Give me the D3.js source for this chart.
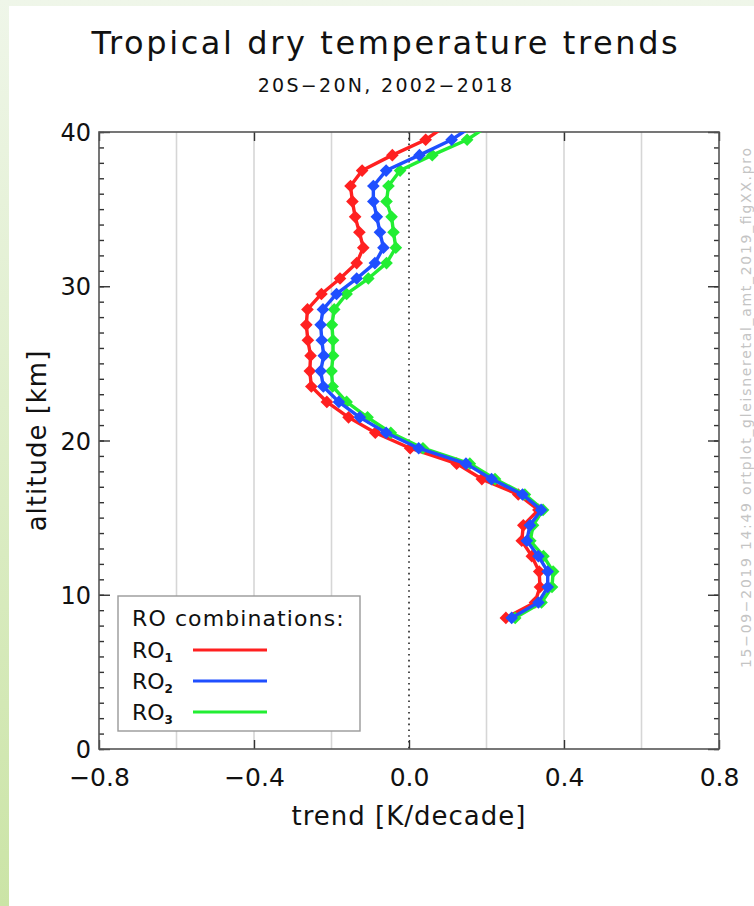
<!DOCTYPE html>
<html>
<head>
<meta charset="utf-8">
<script src="https://cdn.jsdelivr.net/npm/d3@7"></script>
<style>
  html, body { margin: 0; padding: 0; }
  body { width: 754px; height: 906px; overflow: hidden; }
  text { font-family: "DejaVu Sans", "Liberation Sans", sans-serif; fill: #111; }
</style>
</head>
<body>
<div id="chart"></div>
<script>
// altitude levels [km], one marker per level
const altitudes = d3.range(8.5, 41, 1)

// trends [K/decade], bottom (8.5 km) to top (40.5 km)
const ro1 = [0.250, 0.325, 0.338, 0.336, 0.317, 0.291, 0.295, 0.334, 0.282, 0.188, 0.123, 0.003,
  -0.087, -0.156, -0.212, -0.252, -0.256, -0.254, -0.261, -0.265, -0.262, -0.226, -0.178, -0.135,
  -0.118, -0.128, -0.139, -0.146, -0.151, -0.121, -0.043, 0.043, 0.100]
const ro2 = [0.265, 0.334, 0.358, 0.358, 0.334, 0.304, 0.312, 0.341, 0.293, 0.213, 0.147, 0.025,
  -0.059, -0.127, -0.181, -0.221, -0.228, -0.220, -0.225, -0.228, -0.222, -0.187, -0.135, -0.088,
  -0.066, -0.075, -0.083, -0.092, -0.092, -0.059, 0.027, 0.110, 0.170]
const ro3 = [0.274, 0.342, 0.369, 0.372, 0.347, 0.313, 0.320, 0.346, 0.299, 0.222, 0.157, 0.036,
  -0.047, -0.107, -0.161, -0.197, -0.200, -0.196, -0.196, -0.199, -0.193, -0.161, -0.105, -0.058,
  -0.034, -0.040, -0.045, -0.058, -0.053, -0.023, 0.060, 0.150, 0.210]

const seriesNames = ['1', '2', '3']
const seriesColors = ['#ff2020', '#1f4fff', '#22ee33']
const xTicks = [-0.8, -0.4, 0.0, 0.4, 0.8]
const xGrid = [-0.6, -0.4, -0.2, 0.2, 0.4, 0.6]
const yTicks = [0, 10, 20, 30, 40]

const width = 754
const height = 906
const margin = { top: 132, right: 35, bottom: 157, left: 99 }
const plotW = width - margin.left - margin.right
const plotH = height - margin.top - margin.bottom

const svg = d3
  .select('#chart')
  .append('svg')
  .attr('width', width)
  .attr('height', height)

const defs = svg.append('defs')
const grad = defs
  .append('linearGradient')
  .attr('id', 'bg')
  .attr('x1', 0).attr('y1', 0).attr('x2', 0).attr('y2', 1)
grad.append('stop').attr('offset', '0%').attr('stop-color', '#eff6e9')
grad.append('stop').attr('offset', '100%').attr('stop-color', '#cbe4a6')

defs
  .append('clipPath')
  .attr('id', 'plot-clip')
  .append('rect')
  .attr('width', plotW)
  .attr('height', plotH)

// page background and white panel
svg.append('rect').attr('width', width).attr('height', height).attr('fill', 'url(#bg)')
svg.append('rect').attr('x', 9).attr('y', 6).attr('width', width - 9).attr('height', height - 6).attr('fill', '#fff')

const x = d3.scaleLinear().domain([-0.8, 0.8]).range([0, plotW])
const y = d3.scaleLinear().domain([0, 40]).range([plotH, 0])

const g = svg.append('g').attr('transform', `translate(${margin.left},${margin.top})`)

// light vertical grid
g.append('g')
  .selectAll('line')
  .data(xGrid)
  .join('line')
  .attr('x1', (d) => x(d))
  .attr('x2', (d) => x(d))
  .attr('y1', 0)
  .attr('y2', plotH)
  .attr('stroke', '#d6d6d6')
  .attr('stroke-width', 1.6)

// dotted zero line
g.append('line')
  .attr('x1', x(0))
  .attr('x2', x(0))
  .attr('y1', 0)
  .attr('y2', plotH)
  .attr('stroke', '#222')
  .attr('stroke-width', 1.6)
  .attr('stroke-dasharray', '1.6,4.2')

// axes
function styleAxis(sel) {
  sel.select('.domain').remove()
  sel.selectAll('.tick line').attr('stroke', '#333').attr('stroke-width', 1.4)
  sel.selectAll('.tick text').attr('fill', '#111')
}

g.append('g')
  .attr('transform', `translate(0,${plotH})`)
  .call(d3.axisBottom(x).tickValues(xTicks).tickSize(-9).tickPadding(19).tickFormat(d3.format('.1f')))
  .call(styleAxis)
  .selectAll('text')
  .attr('font-size', 25)
  .attr('dy', '0.71em')

g.append('g')
  .call(d3.axisTop(x).tickValues(xTicks).tickSize(-9).tickFormat(''))
  .call(styleAxis)

g.append('g')
  .call(d3.axisLeft(y).tickValues(d3.range(0, 41)).tickSize(-5).tickFormat(''))
  .call(styleAxis)

g.append('g')
  .call(d3.axisLeft(y).tickValues(yTicks).tickSize(-11).tickPadding(8).tickFormat(d3.format('d')))
  .call(styleAxis)
  .selectAll('text')
  .attr('font-size', 24)
  .attr('dy', '0.36em')

g.append('g')
  .attr('transform', `translate(${plotW},0)`)
  .call(d3.axisRight(y).tickValues(d3.range(0, 41)).tickSize(-5).tickFormat(''))
  .call(styleAxis)

g.append('g')
  .attr('transform', `translate(${plotW},0)`)
  .call(d3.axisRight(y).tickValues(yTicks).tickSize(-11).tickFormat(''))
  .call(styleAxis)

// frame
g.append('rect')
  .attr('width', plotW)
  .attr('height', plotH)
  .attr('fill', 'none')
  .attr('stroke', '#555')
  .attr('stroke-width', 1.6)

// series, drawn red, green, blue so blue sits on top
const series = [ro1, ro3, ro2].map((vals) => vals.map((v, i) => ({ alt: altitudes[i], v })))
const colorsInOrder = [seriesColors[0], seriesColors[2], seriesColors[1]]

const line = d3
  .line()
  .x((d) => x(d.v))
  .y((d) => y(d.alt))

const diamond = d3.symbol().type(d3.symbolSquare).size(80)

const curves = g.append('g').attr('clip-path', 'url(#plot-clip)')

series.forEach((pts, k) => {
  const col = colorsInOrder[k]
  const s = curves.append('g')
  s.append('path')
    .datum(pts)
    .attr('d', line)
    .attr('fill', 'none')
    .attr('stroke', col)
    .attr('stroke-width', 3.4)
    .attr('stroke-linejoin', 'round')
  s.selectAll('path.mk')
    .data(pts)
    .join('path')
    .attr('class', 'mk')
    .attr('d', diamond)
    .attr('transform', (d) => `translate(${x(d.v)},${y(d.alt)}) rotate(45)`)
    .attr('fill', col)
})

// legend
const legend = svg.append('g').attr('transform', 'translate(118,596)')
legend
  .append('rect')
  .attr('width', 242)
  .attr('height', 135)
  .attr('fill', '#fff')
  .attr('stroke', '#999')
  .attr('stroke-width', 1.4)

legend
  .append('text')
  .attr('x', 14)
  .attr('y', 30)
  .attr('font-size', 22)
  .attr('letter-spacing', 1.1)
  .text('RO combinations:')

seriesNames.forEach((n, i) => {
  const yy = 62 + i * 31
  const t = legend.append('text').attr('x', 14).attr('y', yy).attr('font-size', 22)
  t.append('tspan').text('RO')
  t.append('tspan').attr('font-size', 12).attr('font-weight', 'bold').attr('dy', 4).text(n)
  legend
    .append('line')
    .attr('x1', 75)
    .attr('x2', 149)
    .attr('y1', yy - 8)
    .attr('y2', yy - 8)
    .attr('stroke', seriesColors[i])
    .attr('stroke-width', 3)
})

// titles
svg.append('text')
  .attr('x', 386)
  .attr('y', 54)
  .attr('text-anchor', 'middle')
  .attr('font-size', 32)
  .attr('letter-spacing', 2.6)
  .text('Tropical dry temperature trends')

svg.append('text')
  .attr('x', 386)
  .attr('y', 92)
  .attr('text-anchor', 'middle')
  .attr('font-size', 19)
  .attr('letter-spacing', 2.3)
  .text('20S\u221220N, 2002\u22122018')

svg.append('text')
  .attr('x', margin.left + plotW / 2)
  .attr('y', 825)
  .attr('text-anchor', 'middle')
  .attr('font-size', 26)
  .attr('letter-spacing', 1)
  .text('trend [K/decade]')

svg.append('text')
  .attr('transform', `translate(46,${margin.top + plotH / 2}) rotate(-90)`)
  .attr('text-anchor', 'middle')
  .attr('font-size', 26)
  .attr('letter-spacing', 1)
  .text('altitude [km]')

// faint plot stamp on the right edge
svg.append('text')
  .attr('transform', 'translate(751,668) rotate(-90)')
  .attr('font-size', 14)
  .attr('textLength', 520)
  .attr('lengthAdjust', 'spacing')
  .style('fill', '#c4c4c4')
  .text('15\u221209\u22122019 14:49    ortplot_gleisneretal_amt_2019_figXX.pro')
</script>
</body>
</html>
